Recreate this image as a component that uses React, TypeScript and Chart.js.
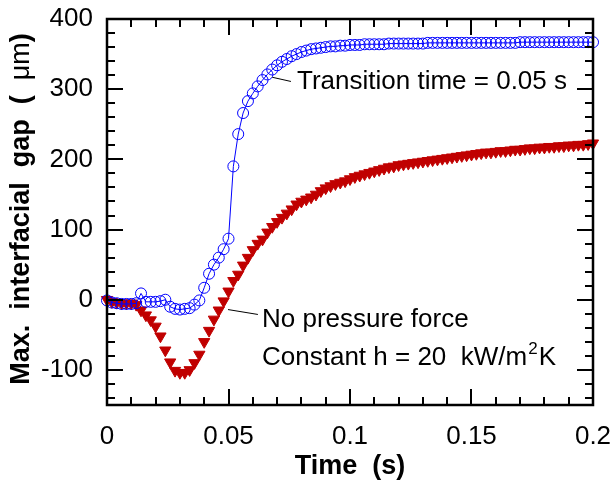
import React, { useEffect, useRef } from 'react';
import { Chart, registerables } from 'chart.js';

Chart.register(...registerables);

// Sample times (s)
const times = [
  0, 0.002, 0.004, 0.006, 0.008, 0.01, 0.012, 0.014, 0.016, 0.018,
  0.02, 0.022, 0.024, 0.026, 0.028, 0.03, 0.032, 0.034, 0.036, 0.038,
  0.04, 0.042, 0.044, 0.046, 0.048, 0.05, 0.052, 0.054, 0.056, 0.058,
  0.06, 0.062, 0.064, 0.066, 0.068, 0.07, 0.072, 0.074, 0.076, 0.078,
  0.08, 0.082, 0.084, 0.086, 0.088, 0.09, 0.092, 0.094, 0.096, 0.098,
  0.1, 0.102, 0.104, 0.106, 0.108, 0.11, 0.112, 0.114, 0.116, 0.118,
  0.12, 0.122, 0.124, 0.126, 0.128, 0.13, 0.132, 0.134, 0.136, 0.138,
  0.14, 0.142, 0.144, 0.146, 0.148, 0.15, 0.152, 0.154, 0.156, 0.158,
  0.16, 0.162, 0.164, 0.166, 0.168, 0.17, 0.172, 0.174, 0.176, 0.178,
  0.18, 0.182, 0.184, 0.186, 0.188, 0.19, 0.192, 0.194, 0.196, 0.198, 0.2,
];

// Max. interfacial gap (um), transition time = 0.05 s (blue circles)
const gapTransition = [
  -1, -4, -5, -6, -6, -6, -5, 9, -3, -3,
  -3, -2, 0, -10, -13, -14, -13, -12, -7, -1,
  17, 37, 50, 60, 72, 87, 190, 236, 266, 283,
  294, 304, 313, 321, 328, 334, 339, 343, 347, 350,
  353, 355, 357, 358, 359, 360, 361, 361, 362, 362,
  363, 363, 363, 364, 364, 364, 364, 364, 365, 365,
  365, 365, 365, 365, 365, 365, 366, 366, 366, 366,
  366, 366, 366, 366, 366, 366, 366, 366, 366, 366,
  366, 366, 366, 366, 366, 367, 367, 367, 367, 367,
  367, 367, 367, 367, 367, 367, 367, 367, 367, 367, 367,
];

// Max. interfacial gap (um), no pressure force (red triangles)
const gapNoPressure = [
  0, -3, -4, -5, -5, -5, -7, -15, -22, -29,
  -38, -52, -72, -89, -101, -104, -104, -100, -90, -78,
  -60, -44, -28, -15, -2, 12, 27, 36, 49, 60,
  71, 80, 86, 96, 104, 111, 117, 123, 129, 136,
  140, 143, 146, 150, 155, 159, 162, 165, 167, 169,
  172, 175, 177, 179, 181, 183, 185, 187, 189, 190,
  192, 193, 194, 195, 196, 197, 198, 199, 200, 201,
  202, 203, 204, 205, 206, 207, 208, 209, 210, 210,
  211, 212, 212, 213, 214, 214, 215, 216, 216, 217,
  217, 218, 218, 219, 219, 220, 220, 221, 221, 222, 223,
];

const xTickValues = [0, 0.05, 0.1, 0.15, 0.2];
const xTickLabels = ['0', '0.05', '0.1', '0.15', '0.2'];
const yTickValues = [-100, 0, 100, 200, 300, 400];
const yTickLabels = ['-100', '0', '100', '200', '300', '400'];

const xTitle = 'Time  (s)';
const yTitleBold = 'Max.  interfacial  gap  (  ';
const yTitleUnit = '\u03BCm';
const yTitleEnd = ')';

const labelTransition = 'Transition time = 0.05 s';
const labelNoPressure = 'No pressure force';
const labelConstantMain = 'Constant h = 20  kW/m';
const labelConstantSup = '2';
const labelConstantEnd = 'K';

const FONT = '"Liberation Sans", Arial, Helvetica, sans-serif';
const BLUE = '#0000ff';
const RED = '#c00000';

const overlayPlugin = {
  id: 'overlay',
  afterDatasetsDraw(chart: any) {
    const { ctx, chartArea, scales } = chart;
    const { left, right, top, bottom } = chartArea;
    const x = scales.x;
    const y = scales.y;
    ctx.save();
    ctx.strokeStyle = '#000';
    ctx.lineWidth = 2;
    ctx.lineCap = 'butt';
    // x ticks (inward, top & bottom)
    for (let i = 0; i <= 20; i++) {
      const v = i * 0.01;
      const px = Math.round(x.getPixelForValue(v));
      const len = i % 5 === 0 ? 16 : 8;
      ctx.beginPath();
      ctx.moveTo(px, bottom);
      ctx.lineTo(px, bottom - len);
      ctx.moveTo(px, top);
      ctx.lineTo(px, top + len);
      ctx.stroke();
    }
    // y ticks (inward, left & right)
    for (let v = -140; v <= 400; v += 20) {
      const py = Math.round(y.getPixelForValue(v));
      const len = v % 100 === 0 ? 16 : 8;
      ctx.beginPath();
      ctx.moveTo(left, py);
      ctx.lineTo(left + len, py);
      ctx.moveTo(right, py);
      ctx.lineTo(right - len, py);
      ctx.stroke();
    }
    ctx.lineWidth = 2.5;
    ctx.strokeRect(left, top, right - left, bottom - top);

    // leader lines
    ctx.lineWidth = 1;
    ctx.strokeStyle = '#000';
    ctx.beginPath();
    ctx.moveTo(x.getPixelForValue(0.068), y.getPixelForValue(317));
    ctx.lineTo(x.getPixelForValue(0.0757), y.getPixelForValue(311));
    ctx.moveTo(x.getPixelForValue(0.0498), y.getPixelForValue(-14));
    ctx.lineTo(x.getPixelForValue(0.0621), y.getPixelForValue(-21));
    ctx.stroke();

    // annotation texts
    ctx.fillStyle = '#000';
    ctx.textBaseline = 'middle';
    ctx.textAlign = 'left';
    ctx.font = `26px ${FONT}`;
    ctx.fillText(labelTransition, x.getPixelForValue(0.0782), y.getPixelForValue(311));
    ctx.fillText(labelNoPressure, x.getPixelForValue(0.0638), y.getPixelForValue(-29));
    const cx = x.getPixelForValue(0.0638);
    const cy = y.getPixelForValue(-83);
    ctx.fillText(labelConstantMain, cx, cy);
    const w1 = ctx.measureText(labelConstantMain).width;
    ctx.font = `17px ${FONT}`;
    ctx.fillText(labelConstantSup, cx + w1 + 1, cy - 9);
    const w2 = ctx.measureText(labelConstantSup).width;
    ctx.font = `26px ${FONT}`;
    ctx.fillText(labelConstantEnd, cx + w1 + w2 + 2, cy);

    // y-axis title (rotated, mixed weight)
    const boldFont = `bold 27px ${FONT}`;
    const normFont = `27px ${FONT}`;
    ctx.font = boldFont;
    const a = ctx.measureText(yTitleBold).width;
    const c = ctx.measureText(yTitleEnd).width;
    ctx.font = normFont;
    const b = ctx.measureText(yTitleUnit).width;
    const total = a + b + c;
    ctx.translate(22, (top + bottom) / 2 - 3);
    ctx.rotate(-Math.PI / 2);
    let pos = -total / 2;
    ctx.font = boldFont;
    ctx.fillText(yTitleBold, pos, 0);
    pos += a;
    ctx.font = normFont;
    ctx.fillText(yTitleUnit, pos, 0);
    pos += b;
    ctx.font = boldFont;
    ctx.fillText(yTitleEnd, pos, 0);
    ctx.restore();
  },
};

export default function App() {
  const canvasRef = useRef<HTMLCanvasElement | null>(null);

  useEffect(() => {
    const canvas = canvasRef.current;
    if (!canvas) return;
    const chart = new Chart(canvas, {
      type: 'scatter',
      data: {
        datasets: [
          {
            label: 'Transition time = 0.05 s',
            data: times.map((t, i) => ({ x: t, y: gapTransition[i] })),
            showLine: true,
            borderColor: BLUE,
            borderWidth: 1,
            pointStyle: 'circle',
            pointRadius: 5.5,
            pointBorderWidth: 1,
            pointBorderColor: BLUE,
            pointBackgroundColor: 'rgba(0,0,0,0)',
            clip: false,
            order: 0,
          } as any,
          {
            label: 'No pressure force',
            data: times.map((t, i) => ({ x: t, y: gapNoPressure[i] })),
            showLine: false,
            pointStyle: 'triangle',
            pointRotation: 180,
            pointRadius: 6.5,
            pointBorderWidth: 1,
            pointBorderColor: RED,
            pointBackgroundColor: RED,
            clip: false,
            order: 1,
          } as any,
        ],
      },
      options: {
        responsive: false,
        animation: false,
        devicePixelRatio: 1,
        layout: { padding: { top: 19, right: 22, left: 0, bottom: 0 } },
        plugins: {
          legend: { display: false },
          tooltip: { enabled: false },
        },
        scales: {
          x: {
            type: 'linear',
            min: 0,
            max: 0.2,
            afterBuildTicks: (axis: any) => {
              axis.ticks = xTickValues.map((v) => ({ value: v }));
            },
            afterFit: (axis: any) => {
              axis.height = 82;
              axis.paddingLeft = 0;
              axis.paddingRight = 0;
            },
            ticks: {
              autoSkip: false,
              maxRotation: 0,
              padding: 16,
              color: '#000',
              font: { family: FONT, size: 26 },
              callback: (v: any) => {
                const idx = xTickValues.findIndex((t) => Math.abs(t - Number(v)) < 1e-9);
                return idx >= 0 ? xTickLabels[idx] : '';
              },
            },
            grid: { display: false, drawTicks: false },
            border: { display: false },
            title: {
              display: true,
              text: xTitle,
              color: '#000',
              font: { family: FONT, size: 27, weight: 'bold' },
              padding: { top: 0, bottom: 4 },
            },
          },
          y: {
            type: 'linear',
            min: -150,
            max: 400,
            afterBuildTicks: (axis: any) => {
              axis.ticks = yTickValues.map((v) => ({ value: v }));
            },
            afterFit: (axis: any) => {
              axis.width = 107;
              axis.paddingTop = 0;
              axis.paddingBottom = 0;
            },
            ticks: {
              autoSkip: false,
              padding: 14,
              color: '#000',
              font: { family: FONT, size: 26 },
              callback: (v: any) => {
                const idx = yTickValues.indexOf(Number(v));
                return idx >= 0 ? yTickLabels[idx] : '';
              },
            },
            grid: { display: false, drawTicks: false },
            border: { display: false },
            title: { display: false },
          },
        },
      },
      plugins: [overlayPlugin],
    } as any);
    return () => chart.destroy();
  }, []);

  return (
    <div style={{ position: 'absolute', left: 0, top: 0, width: 615, height: 487, background: '#fff' }}>
      <canvas ref={canvasRef} width={615} height={487} style={{ display: 'block' }} />
    </div>
  );
}
